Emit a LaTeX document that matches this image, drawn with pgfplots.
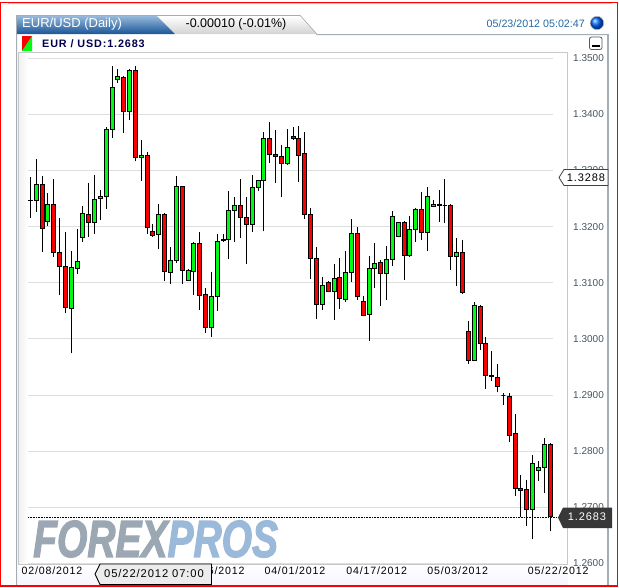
\documentclass[border=0pt]{standalone}
\usepackage{pgfplots}
\usepackage{pgfplotstable}
\usepackage{fontspec}
\pgfplotsset{compat=1.18}
\setmainfont{Liberation Sans}
\newfontfamily\spaced[LetterSpace=8]{Liberation Sans}
\newfontfamily\spacedb[LetterSpace=8]{Liberation Sans Bold}
\newfontfamily\wmfont[FakeBold=2.5]{Liberation Sans Bold Italic}
\definecolor{cup}{RGB}{0,250,20}
\definecolor{cdown}{RGB}{250,0,0}
\definecolor{gridc}{RGB}{222,222,222}
\definecolor{framec}{RGB}{200,200,200}
\definecolor{panelc}{RGB}{165,172,180}
\definecolor{ticklab}{RGB}{70,85,95}
\definecolor{wmgray}{RGB}{155,168,180}
\definecolor{wmblue}{RGB}{155,186,217}
\definecolor{tabtop}{RGB}{150,185,220}
\definecolor{tabmid}{RGB}{40,105,165}
\definecolor{tabbot}{RGB}{25,85,150}
\pgfplotstableread{
i o c h l
0 1.3246 1.3247 1.3289 1.3215
1 1.3247 1.3275 1.3320 1.3226
2 1.3275 1.3197 1.3291 1.3155
3 1.3210 1.3240 1.3259 1.3201
4 1.3240 1.3154 1.3284 1.3146
5 1.3154 1.3129 1.3215 1.3079
6 1.3129 1.3056 1.3190 1.3046
7 1.3054 1.3127 1.3157 1.2974
8 1.3126 1.3138 1.3196 1.3115
9 1.3181 1.3224 1.3237 1.3173
10 1.3222 1.3208 1.3277 1.3182
11 1.3208 1.3249 1.3292 1.3187
12 1.3250 1.3254 1.3266 1.3212
13 1.3254 1.3373 1.3378 1.3232
14 1.3373 1.3448 1.3486 1.3358
15 1.3463 1.3468 1.3480 1.3456
16 1.3466 1.3406 1.3468 1.3366
17 1.3406 1.3478 1.3480 1.3390
18 1.3478 1.3323 1.3486 1.3316
19 1.3323 1.3327 1.3355 1.3282
20 1.3327 1.3199 1.3332 1.3187
21 1.3192 1.3184 1.3205 1.3182
22 1.3186 1.3222 1.3240 1.3160
23 1.3222 1.3120 1.3225 1.3103
24 1.3119 1.3140 1.3163 1.3097
25 1.3140 1.3272 1.3291 1.3136
26 1.3272 1.3122 1.3273 1.3097
27 1.3104 1.3122 1.3124 1.3103
28 1.3120 1.3170 1.3172 1.3079
29 1.3170 1.3077 1.3190 1.3051
30 1.3079 1.3020 1.3090 1.3011
31 1.3021 1.3076 1.3119 1.3003
32 1.3076 1.3174 1.3186 1.3050
33 1.3175 1.3177 1.3186 1.3173
34 1.3177 1.3229 1.3263 1.3142
35 1.3229 1.3237 1.3252 1.3173
36 1.3237 1.3217 1.3284 1.3179
37 1.3217 1.3204 1.3253 1.3133
38 1.3204 1.3270 1.3292 1.3191
39 1.3270 1.3282 1.3283 1.3264
40 1.3282 1.3357 1.3368 1.3192
41 1.3357 1.3329 1.3386 1.3313
42 1.3329 1.3325 1.3372 1.3278
43 1.3325 1.3313 1.3345 1.3252
44 1.3313 1.3341 1.3374 1.3310
45 1.3361 1.3357 1.3377 1.3355
46 1.3357 1.3327 1.3380 1.3279
47 1.3331 1.3222 1.3368 1.3214
48 1.3222 1.3144 1.3233 1.3107
49 1.3144 1.3062 1.3163 1.3035
50 1.3062 1.3095 1.3111 1.3051
51 1.3101 1.3085 1.3103 1.3083
52 1.3085 1.3107 1.3133 1.3034
53 1.3110 1.3072 1.3144 1.3053
54 1.3070 1.3119 1.3156 1.3066
55 1.3119 1.3188 1.3213 1.3102
56 1.3188 1.3076 1.3200 1.3069
57 1.3067 1.3041 1.3076 1.3040
58 1.3043 1.3126 1.3148 1.2996
59 1.3126 1.3135 1.3171 1.3090
60 1.3136 1.3117 1.3140 1.3059
61 1.3117 1.3142 1.3165 1.3069
62 1.3142 1.3218 1.3228 1.3129
63 1.3183 1.3207 1.3209 1.3181
64 1.3208 1.3149 1.3210 1.3105
65 1.3149 1.3195 1.3218 1.3146
66 1.3195 1.3231 1.3234 1.3173
67 1.3231 1.3190 1.3262 1.3177
68 1.3190 1.3254 1.3270 1.3157
69 1.3236 1.3240 1.3247 1.3236
70 1.3237 1.3239 1.3266 1.3209
71 1.3238 1.3238 1.3284 1.3206
72 1.3238 1.3147 1.3240 1.3123
73 1.3146 1.3154 1.3179 1.3095
74 1.3154 1.3083 1.3177 1.3080
75 1.3013 1.2961 1.3031 1.2956
76 1.2961 1.3060 1.3065 1.2961
77 1.3058 1.2991 1.3060 1.2981
78 1.2992 1.2934 1.3003 1.2911
79 1.2933 1.2935 1.2978 1.2925
80 1.2932 1.2915 1.2956 1.2905
81 1.2899 1.2899 1.2903 1.2882
82 1.2898 1.2828 1.2904 1.2816
83 1.2831 1.2734 1.2867 1.2721
84 1.2733 1.2730 1.2758 1.2682
85 1.2732 1.2696 1.2749 1.2667
86 1.2696 1.2778 1.2793 1.2643
87 1.2766 1.2771 1.2783 1.2747
88 1.2771 1.2812 1.2823 1.2725
89 1.2812 1.2683 1.2815 1.2657
}\candles
\begin{document}
\begin{tikzpicture}
\begin{scope}[x=1pt,y=-1pt]
\useasboundingbox (0,0) rectangle (619,587);
\fill[white] (0,0) rectangle (619,587);
\draw[gray!40,line width=1pt] (8,3.5) -- (612,3.5);
% panel
\shade[top color=white,bottom color=blue!4] (18,564) rectangle (568,586);
\draw[panelc,line width=1pt] (16.5,586) -- (16.5,15.5) -- (300,15.5) -- (317,34.5) -- (608,34.5);
\draw[panelc,line width=2pt] (608,34) -- (608,586);
% tab
\shade[top color=white,bottom color=gray!35] (150,16) -- (300,16) -- (316,34) -- (170,34) -- cycle;
\shade[top color=tabtop,middle color=tabmid,bottom color=tabbot] (17,16) -- (157,16) -- (175,34) -- (17,34) -- cycle;
\node[anchor=west,inner sep=0,white,font=\fontsize{13}{15}\selectfont] at (22,24.5) {EUR/USD (Daily)};
\node[anchor=center,inner sep=0,black,font=\fontsize{12.5}{15}\selectfont] at (236,24.5) {-0.00010 (-0.01\%)};
\node[anchor=east,inner sep=0,tabmid,font=\fontsize{10.7}{12}\selectfont] at (585,24) {05/23/2012 05:02:47};
\shade[ball color=blue!60!cyan] (597,23) circle (6.5);
\draw[gray!60,line width=0.6pt] (597,23) circle (6.8);
% icon
\fill[cdown] (22,36) rectangle (32,51);
\fill[cup] (32,36) -- (32,51) -- (22,51) -- cycle;
\node[anchor=west,inner sep=0,blue!30!black,font=\fontsize{10.8}{12}\selectfont\spacedb] at (42,43.5) {EUR / USD:1.2683};
% minimise
\draw[gray!70!black,fill=white,rounded corners=2pt,line width=0.8pt] (589.5,37) rectangle (602,49.5);
\fill[black] (592,45) rectangle (599.5,47);
% inner background fade
\shade[left color=gray!12,right color=white] (18,52) rectangle (28,564);
% watermark
\node[anchor=west,inner sep=0,font=\fontsize{52}{56}\selectfont\wmfont,xscale=0.75,transform shape] at (33,539) {\textcolor{wmgray}{FOREX}\textcolor{wmblue}{PROS}};
\end{scope}
\begin{axis}[
  at={(18pt,-564pt)},anchor=south west,
  scale only axis,width=549.7pt,height=512pt,
  xmin=-2.106,xmax=92.02,ymin=1.25990,ymax=1.35110,
  axis line style={draw=framec,line width=1pt},
  major tick length=0pt,
  axis x line*=bottom,
  axis y line*=right,
  clip=false,
  scaled ticks=false,
  ytick={1.26,1.27,1.28,1.29,1.30,1.31,1.32,1.33,1.34,1.35},
  yticklabel style={/pgf/number format/fixed,/pgf/number format/fixed zerofill,/pgf/number format/precision=4,/pgf/number format/assume math mode=true,font=\fontsize{10}{12}\selectfont,text=ticklab,anchor=west,xshift=2pt},
  xtick={3.7,17.6,31.5,45.3,59.3,73.2,90.4},
  xticklabels={02/08/2012,02/24/2012,03/16/2012,04/01/2012,04/17/2012,05/03/2012,05/22/2012},
  xticklabel style={font=\fontsize{10.6}{12}\selectfont\spaced,text=black,yshift=1pt},
]
\addplot[framec,line width=1pt,forget plot] coordinates {(-2.106,1.3511)(92.02,1.3511)};
\addplot[framec,line width=1pt,forget plot] coordinates {(-2.106,1.3511)(-2.106,1.2599)};
\pgfplotsinvokeforeach{1.26,1.27,1.28,1.29,1.30,1.31,1.32,1.33,1.34,1.35}{
  \addplot[gridc,line width=1pt,forget plot] coordinates {(-0.39,#1)(89.45,#1)};
}
\addplot[black,line width=0.6pt,densely dotted,forget plot] coordinates {(-0.39,1.2683)(90.5,1.2683)};
\pgfplotsinvokeforeach{0,...,89}{
  \pgfplotstablegetelem{#1}{o}\of\candles \let\co\pgfplotsretval
  \pgfplotstablegetelem{#1}{c}\of\candles \let\cc\pgfplotsretval
  \pgfplotstablegetelem{#1}{h}\of\candles \let\ch\pgfplotsretval
  \pgfplotstablegetelem{#1}{l}\of\candles \let\cl\pgfplotsretval
  \pgfmathsetmacro{\xa}{#1-0.342}
  \pgfmathsetmacro{\xb}{#1+0.342}
  \pgfmathparse{\cc>=\co?1:0}
  \ifnum\pgfmathresult=1 \def\ccol{cup}\else\def\ccol{cdown}\fi
  \edef\tmp{\noexpand\addplot[black,line width=0.9pt,no markers,forget plot] coordinates {(#1,\cl)(#1,\ch)};
    \noexpand\addplot[draw=black,fill=\ccol,line width=0.9pt,no markers,forget plot,line join=miter] coordinates {(\xa,\co)(\xb,\co)(\xb,\cc)(\xa,\cc)} --cycle;}
  \tmp
}
\end{axis}
\begin{scope}[x=1pt,y=-1pt]
% price tags
\draw[black!75,fill=white,line width=0.8pt] (559,177.5) -- (564,169.5) -- (608,169.5) -- (608,185.5) -- (564,185.5) -- cycle;
\node[inner sep=0,black,font=\fontsize{11}{13}\selectfont\spaced] at (586,177.5) {1.3288};
\fill[black!78] (558,517.5) -- (563,507.5) -- (612,507.5) -- (612,528) -- (563,528) -- cycle;
\node[inner sep=0,white,font=\fontsize{11}{13}\selectfont\spaced] at (587,517) {1.2683};
% date tooltip
\draw[black,fill=gray!15,line width=0.9pt] (95,574) -- (100,564) -- (211.5,564) -- (211.5,584.5) -- (100,584.5) -- cycle;
\node[inner sep=0,black,font=\fontsize{11.2}{12}\selectfont\spaced] at (154,573.5) {05/22/2012 07:00};
% outer red frame
\draw[red,line width=1.2pt] (0.6,2.2) -- (617.2,2.2) -- (617.2,586) -- (0.6,586) -- cycle;
\end{scope}
\end{tikzpicture}
\end{document}
